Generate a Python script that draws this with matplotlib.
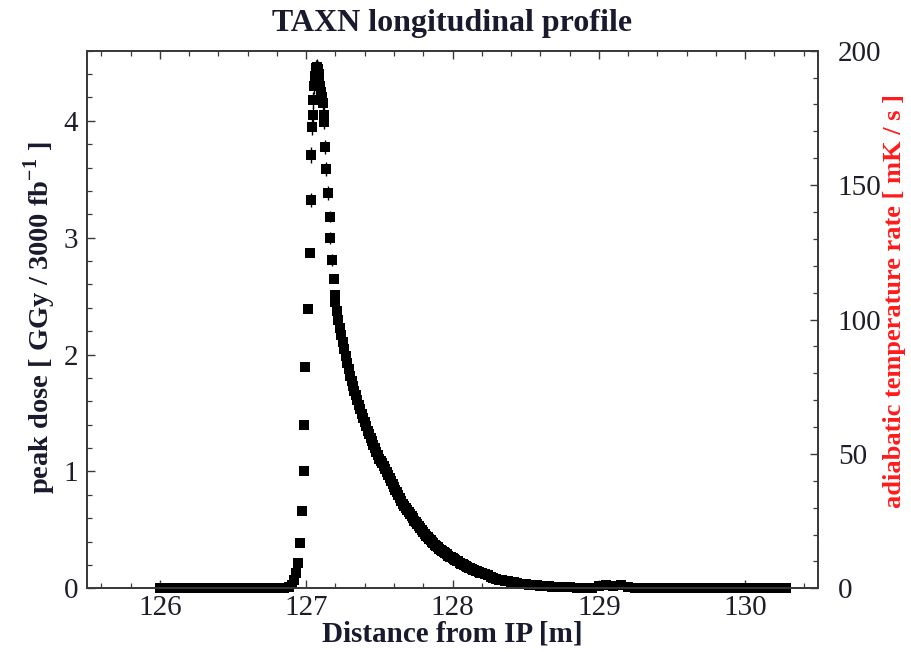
import numpy as np
import matplotlib
matplotlib.use("Agg")
import matplotlib.pyplot as plt
from matplotlib.ticker import MultipleLocator

plt.rcParams['font.family'] = ['Liberation Serif', 'DejaVu Serif']
plt.rcParams['mathtext.fontset'] = 'custom'
plt.rcParams['mathtext.rm'] = 'Liberation Serif'
plt.rcParams['mathtext.bf'] = 'Liberation Serif:bold'

# ---------------- data ----------------
# flat region before the peak
x_left = [126.00, 126.05, 126.10, 126.15, 126.20, 126.25, 126.30, 126.35, 126.40,
          126.45, 126.50, 126.55, 126.60, 126.65, 126.70, 126.75, 126.80, 126.85, 126.88]
dose_left = [0.0, 0.0, 0.0, 0.0, 0.0, 0.0, 0.0, 0.0, 0.0,
             0.0, 0.0, 0.0, 0.0, 0.0, 0.0, 0.0, 0.0, 0.0, 0.01]

# rising edge and peak
x_peak = [126.900, 126.916, 126.932, 126.947, 126.959, 126.971, 126.982, 126.986,
          126.995, 127.012, 127.023, 127.034, 127.036, 127.040, 127.045, 127.050,
          127.055, 127.060, 127.065, 127.070, 127.075, 127.080, 127.085, 127.090,
          127.095, 127.100, 127.105, 127.114, 127.120, 127.125, 127.130, 127.137,
          127.149, 127.160, 127.164, 127.176, 127.190, 127.194]
dose_peak = [0.03, 0.07, 0.13, 0.22, 0.39, 0.66, 1.00, 1.40,
             1.89, 2.39, 2.87, 3.32, 3.71, 3.95, 4.05, 4.18,
             4.30, 4.38, 4.42, 4.45, 4.46, 4.44, 4.40, 4.35,
             4.30, 4.25, 4.20, 4.15, 4.05, 3.99, 3.78, 3.59,
             3.38, 3.18, 3.00, 2.81, 2.65, 2.51]
err_peak = [0.0, 0.0, 0.0, 0.0, 0.0, 0.0, 0.0, 0.0,
            0.0, 0.0, 0.03, 0.06, 0.07, 0.07, 0.07, 0.07,
            0.07, 0.07, 0.07, 0.07, 0.07, 0.07, 0.07, 0.07,
            0.07, 0.07, 0.07, 0.07, 0.07, 0.06, 0.06, 0.06,
            0.06, 0.05, 0.05, 0.05, 0.04, 0.04]

# decaying tail (1 cm bins up to 128.20, then 2 cm)
x_decay = [127.20, 127.21, 127.22, 127.23, 127.24, 127.25, 127.26, 127.27, 127.28,
           127.29, 127.30, 127.31, 127.32, 127.33, 127.34, 127.35, 127.36, 127.37,
           127.38, 127.39, 127.40, 127.41, 127.42, 127.43, 127.44, 127.45, 127.46,
           127.47, 127.48, 127.49, 127.50, 127.51, 127.52, 127.53, 127.54, 127.55,
           127.56, 127.57, 127.58, 127.59, 127.60, 127.61, 127.62, 127.63, 127.64,
           127.65, 127.66, 127.67, 127.68, 127.69, 127.70, 127.71, 127.72, 127.73,
           127.74, 127.75, 127.76, 127.77, 127.78, 127.79, 127.80, 127.81, 127.82,
           127.83, 127.84, 127.85, 127.86, 127.87, 127.88, 127.89, 127.90, 127.91,
           127.92, 127.93, 127.94, 127.95, 127.96, 127.97, 127.98, 127.99, 128.00,
           128.01, 128.02, 128.03, 128.04, 128.05, 128.06, 128.07, 128.08, 128.09,
           128.10, 128.11, 128.12, 128.13, 128.14, 128.15, 128.16, 128.17, 128.18,
           128.19, 128.20, 128.22, 128.24, 128.26, 128.28, 128.30, 128.32, 128.34,
           128.36, 128.38, 128.40, 128.42, 128.44, 128.46, 128.48, 128.50, 128.52,
           128.54, 128.56, 128.58, 128.60, 128.62, 128.64, 128.66, 128.68, 128.70,
           128.72, 128.74, 128.76, 128.78, 128.80]
dose_decay = [2.45, 2.37, 2.30, 2.23, 2.17, 2.11, 2.05, 1.99, 1.93,
              1.88, 1.82, 1.77, 1.73, 1.69, 1.65, 1.61, 1.57, 1.53,
              1.49, 1.46, 1.42, 1.39, 1.35, 1.32, 1.29, 1.26, 1.23,
              1.20, 1.17, 1.14, 1.11, 1.09, 1.07, 1.045, 1.02, 0.995,
              0.97, 0.945, 0.92, 0.895, 0.87, 0.845, 0.82, 0.795, 0.77,
              0.745, 0.725, 0.705, 0.69, 0.67, 0.65, 0.635, 0.62, 0.60,
              0.58, 0.565, 0.55, 0.535, 0.52, 0.50, 0.48, 0.465, 0.45,
              0.435, 0.42, 0.41, 0.40, 0.385, 0.37, 0.36, 0.35, 0.34,
              0.33, 0.32, 0.31, 0.30, 0.29, 0.28, 0.27, 0.265, 0.26,
              0.25, 0.24, 0.235, 0.23, 0.22, 0.21, 0.205, 0.20, 0.19,
              0.18, 0.175, 0.17, 0.165, 0.16, 0.155, 0.15, 0.145, 0.14,
              0.135, 0.13, 0.12, 0.11, 0.10, 0.09, 0.08, 0.075, 0.07,
              0.065, 0.06, 0.055, 0.05, 0.045, 0.04, 0.038, 0.035, 0.032,
              0.03, 0.028, 0.025, 0.022, 0.02, 0.018, 0.016, 0.015, 0.013,
              0.012, 0.011, 0.010, 0.009, 0.008]

# flat region after the peak
x_right = [128.85, 128.90, 128.95, 129.00, 129.05, 129.10, 129.15, 129.20, 129.25,
           129.30, 129.35, 129.40, 129.45, 129.50, 129.55, 129.60, 129.65, 129.70,
           129.75, 129.80, 129.85, 129.90, 129.95, 130.00, 130.05, 130.10, 130.15,
           130.20, 130.25, 130.28]
dose_right = [0.006, 0.005, 0.005, 0.02, 0.025, 0.02, 0.025, 0.01, 0.004,
              0.003, 0.003, 0.003, 0.002, 0.002, 0.002, 0.002, 0.002, 0.002,
              0.002, 0.002, 0.002, 0.002, 0.002, 0.002, 0.002, 0.002, 0.002,
              0.002, 0.002, 0.002]

# axis settings
xlim = (125.5, 130.5)
ylim_dose = (0, 4.6)
ylim_temp = (0, 200)
xticks = [126, 127, 128, 129, 130]
yticks_dose = [0, 1, 2, 3, 4]
yticks_temp = [0, 50, 100, 150, 200]

# ---------------- plot ----------------
W, H = 911, 652
fig = plt.figure(figsize=(W / 100, H / 100), dpi=100)
ax = fig.add_axes([86.7 / W, 1 - 588.3 / H, (818.3 - 86.7) / W, (588.3 - 50.7) / H])

ms = 7.2
kw = dict(marker='s', ms=ms, color='black', linestyle='none', mew=0, clip_on=False, zorder=3)
ax.plot(x_left, dose_left, **kw)
ax.plot(x_decay, dose_decay, **kw)
ax.plot(x_right, dose_right, **kw)
ax.errorbar(x_peak, dose_peak, yerr=err_peak, fmt='s', ms=ms, color='black',
            mew=0, ecolor='black', elinewidth=1.0, capsize=3.5, capthick=1.0,
            zorder=3)

ax.set_xlim(*xlim)
ax.set_ylim(*ylim_dose)
ax.set_xticks(xticks)
ax.set_yticks(yticks_dose)
ax.xaxis.set_minor_locator(MultipleLocator(0.2))
ax.yaxis.set_minor_locator(MultipleLocator(0.2))

spine_c = '#3a3a3a'
for s in ax.spines.values():
    s.set_color(spine_c)
    s.set_linewidth(1.3)

tick_c = '#1e1e2a'
ax.tick_params(which='both', direction='in', top=True, right=False,
               color=spine_c, labelsize=21, labelcolor=tick_c)
ax.tick_params(which='major', length=6, width=1.0)
ax.tick_params(which='minor', length=3.5, width=0.9)
ax.tick_params(axis='x', pad=5)
ax.tick_params(axis='y', pad=6)

lab_c = '#1a1a2e'
fig.text(452 / W, 1 - 634 / H, 'Distance from IP [m]', fontsize=21,
         fontweight='bold', color=lab_c, ha='center', va='center')
fig.text(40 / W, 1 - 318 / H, r'peak dose [ GGy / 3000 fb$^{\mathbf{-1}}$ ]',
         fontsize=20.5, fontweight='bold', color=lab_c, rotation=90,
         ha='center', va='center')
fig.text(452 / W, 1 - 23 / H, 'TAXN longitudinal profile', fontsize=23,
         fontweight='bold', color=lab_c, ha='center', va='center')

ax2 = ax.twinx()
ax2.set_ylim(*ylim_temp)
ax2.set_yticks(yticks_temp)
ax2.yaxis.set_minor_locator(MultipleLocator(10))
for s in ax2.spines.values():
    s.set_color(spine_c)
    s.set_linewidth(1.3)
ax2.tick_params(which='both', direction='in', color=spine_c, labelsize=21,
                labelcolor=tick_c)
ax2.tick_params(which='major', length=6, width=1.0, pad=14)
ax2.tick_params(which='minor', length=3.5, width=0.9)
fig.text(895 / W, 1 - 301 / H, 'adiabatic temperature rate [ mK / s ]',
         fontsize=19, fontweight='bold', color='#ff1a1a', rotation=90,
         ha='center', va='center')

fig.savefig('out.png', dpi=100)
